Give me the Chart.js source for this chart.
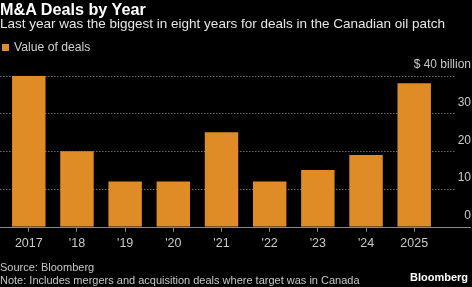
<!DOCTYPE html>
<html><head><meta charset="utf-8">
<script src="https://cdn.jsdelivr.net/npm/chart.js@4"></script>
<style>
html,body{margin:0;padding:0;background:#000;}
#wrap{position:relative;width:472px;height:287px;overflow:hidden;background:#000;font-family:"Liberation Sans",Arial,sans-serif;}
canvas{position:absolute;left:0;top:0;}
.t{position:absolute;white-space:nowrap;line-height:1;}
</style></head>
<body><div id="wrap">
<canvas id="c" width="472" height="287"></canvas>
<div class="t" style="left:0;top:1px;font-size:16.2px;font-weight:bold;color:#fff;">M&amp;A Deals by Year</div>
<div class="t" style="left:0;top:17px;font-size:13.5px;color:#e6e6e6;">Last year was the biggest in eight years for deals in the Canadian oil patch</div>
<div style="position:absolute;left:2px;top:44px;width:7px;height:7px;background:#DF8C27;"></div>
<div class="t" style="left:14px;top:41px;font-size:12.2px;color:#d0d0d0;">Value of deals</div>
<div class="t" style="left:0;top:262px;font-size:11px;color:#c8c8c8;">Source: Bloomberg</div>
<div class="t" style="left:0;top:275px;font-size:11px;color:#c8c8c8;">Note: Includes mergers and acquisition deals where target was in Canada</div>
<div class="t" style="right:4px;top:272px;font-size:11px;font-weight:bold;color:#fff;">Bloomberg</div>
</div>
<script>
const categories = ["2017","'18","'19","'20","'21","'22","'23","'24","2025"];
const dealValues = [40, 20, 12, 12, 25, 12, 15, 19, 38];
const yTickValues = [0, 10, 20, 30, 40];
const yTickLabels = ["0", "10", "20", "30", "$ 40 billion"];

const overlay = {
  id: 'overlay',
  beforeDatasetsDraw(chart) {
    const ctx = chart.ctx, y = chart.scales.y;
    ctx.save();
    ctx.strokeStyle = '#6a6a6a';
    ctx.lineWidth = 1;
    ctx.setLineDash([1.5, 1.5]);
    yTickValues.forEach(v => {
      if (v === 0) return;
      const py = Math.round(y.getPixelForValue(v)) + 0.5;
      ctx.beginPath(); ctx.moveTo(0, py); ctx.lineTo(456, py); ctx.stroke();
    });
    ctx.restore();
  },
  afterDatasetsDraw(chart) {
    const ctx = chart.ctx, y = chart.scales.y;
    ctx.save();
    const py = Math.round(y.getPixelForValue(0)) + 0.5;
    ctx.strokeStyle = '#8a8a8a';
    ctx.lineWidth = 1;
    ctx.beginPath(); ctx.moveTo(0, py); ctx.lineTo(471, py); ctx.stroke();
    ctx.fillStyle = '#c8c8c8';
    ctx.font = '12px "Liberation Sans", Arial, sans-serif';
    ctx.textAlign = 'right';
    ctx.textBaseline = 'middle';
    yTickValues.forEach((v, i) => {
      ctx.fillText(yTickLabels[i], 471, y.getPixelForValue(v) - 11);
    });
    ctx.restore();
  }
};

new Chart(document.getElementById('c'), {
  type: 'bar',
  data: {
    labels: categories,
    datasets: [{
      label: 'Value of deals',
      data: dealValues,
      backgroundColor: '#DF8C27',
      borderWidth: 0,
      categoryPercentage: 1,
      barPercentage: 0.694
    }]
  },
  options: {
    responsive: false,
    animation: false,
    layout: { padding: { left: 4.7, right: 33.7, top: 75.7, bottom: 0 } },
    plugins: { legend: { display: false }, tooltip: { enabled: false } },
    scales: {
      y: { display: false, min: 0, max: 40 },
      x: {
        afterFit(scale) { scale.height = 60.3; },
        grid: { display: true, drawOnChartArea: false, drawTicks: true, tickLength: 5, offset: false, color: '#8a8a8a' },
        border: { display: false },
        ticks: { color: '#c8c8c8', padding: 4, font: { size: 12.5, family: '"Liberation Sans", Arial, sans-serif' }, maxRotation: 0, autoSkip: false }
      }
    }
  },
  plugins: [overlay]
});
</script>
</body></html>
